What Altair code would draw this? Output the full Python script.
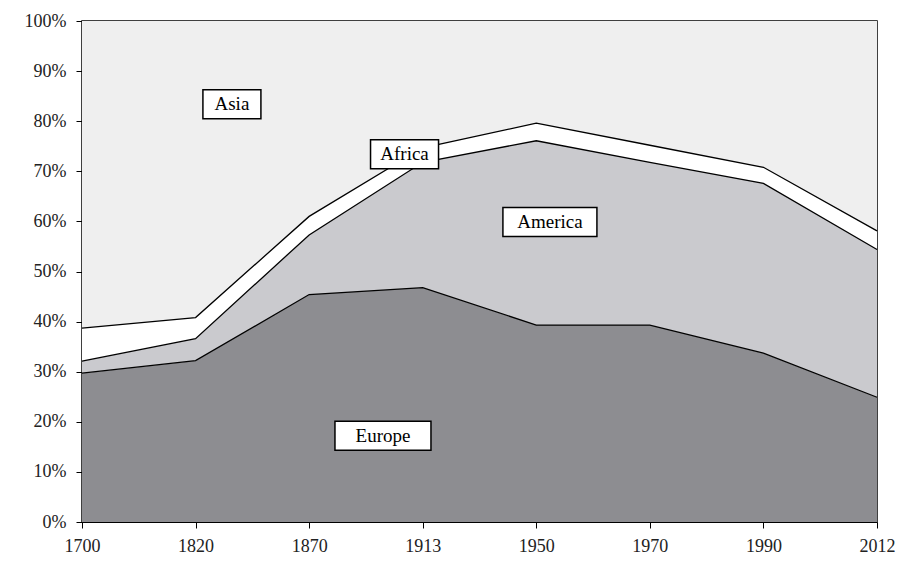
import altair as alt
import pandas as pd

years = ["1700", "1820", "1870", "1913", "1950", "1970", "1990", "2012"]
regions = ["Europe", "America", "Africa", "Asia"]
europe = [29.7, 32.2, 45.4, 46.8, 39.3, 39.3, 33.7, 24.9]
america = [2.4, 4.4, 11.9, 25.0, 36.8, 32.5, 33.9, 29.5]
africa = [6.6, 4.2, 3.7, 2.9, 3.5, 3.4, 3.2, 3.7]
asia = [61.3, 59.2, 39.0, 25.3, 20.4, 24.8, 29.2, 41.9]
colors = ["#8d8d91", "#cacace", "#ffffff", "#efefef"]

label_names = ["Asia", "Africa", "America", "Europe"]
label_x = [1.32, 2.84, 4.12, 2.65]
label_y = [83.4, 73.4, 59.9, 17.2]
label_wpx = [58, 68, 94, 96]

W, H = 795, 501
px_x = W / 7.0
px_y = H / 100.0
box_h = 29

series = {"Europe": europe, "America": america, "Africa": africa, "Asia": asia}
rows = []
for r_i, r in enumerate(regions):
    for i, v in enumerate(series[r]):
        rows.append({"idx": i, "region": r, "share": v, "ord": r_i})
df = pd.DataFrame(rows)

line_rows = []
for i in range(len(years)):
    cum = 0.0
    for r in regions[:-1]:
        cum += series[r][i]
        line_rows.append({"idx": i, "region": r, "cum": cum})
ldf = pd.DataFrame(line_rows)

lab = pd.DataFrame({"name": label_names, "x": label_x, "y": label_y, "w": label_wpx})
lab["x1"] = lab["x"] - lab["w"] / 2 / px_x
lab["x2"] = lab["x"] + lab["w"] / 2 / px_x
lab["y1"] = lab["y"] - box_h / 2 / px_y
lab["y2"] = lab["y"] + box_h / 2 / px_y

year_expr = "[" + ",".join("'%s'" % y for y in years) + "][datum.value]"

xscale = alt.Scale(domain=[0, 7], nice=False, zero=False)
yscale = alt.Scale(domain=[0, 100], nice=False)

xaxis = alt.Axis(values=list(range(8)), labelExpr=year_expr, title=None, grid=False,
                 domainColor="black", tickColor="black", tickSize=6, labelFontSize=18,
                 labelFont="Liberation Serif", labelColor="#222222", labelPadding=9,
                 labelFlush=False, labelBound=False, labelOverlap=False)
yaxis = alt.Axis(values=list(range(0, 101, 10)), labelExpr="datum.value + '%'", title=None,
                 grid=False, domainColor="black", tickColor="black", tickSize=6,
                 labelFontSize=18, labelFont="Liberation Serif", labelColor="#222222",
                 labelPadding=10, labelFlush=False, labelBound=False, labelOverlap=False)

area = alt.Chart(df).mark_area(opacity=1, interpolate="linear").encode(
    x=alt.X("idx:Q", scale=xscale, axis=xaxis),
    y=alt.Y("share:Q", stack="zero", scale=yscale, axis=yaxis),
    color=alt.Color("region:N", scale=alt.Scale(domain=regions, range=colors), legend=None),
    order=alt.Order("ord:Q", sort="ascending"),
)

lines = alt.Chart(ldf).mark_line(color="black", strokeWidth=1.3).encode(
    x=alt.X("idx:Q", scale=xscale),
    y=alt.Y("cum:Q", scale=yscale),
    detail="region:N",
)

boxes = alt.Chart(lab).mark_rect(fill="white", stroke="black", strokeWidth=1.5).encode(
    x=alt.X("x1:Q", scale=xscale), x2="x2:Q",
    y=alt.Y("y1:Q", scale=yscale), y2="y2:Q",
)

texts = alt.Chart(lab).mark_text(font="Liberation Serif", fontSize=19, color="black",
                                 baseline="middle", align="center").encode(
    x=alt.X("x:Q", scale=xscale),
    y=alt.Y("y:Q", scale=yscale),
    text="name:N",
)

chart = alt.layer(area, lines, boxes, texts).properties(
    width=W, height=H,
    autosize=alt.AutoSizeParams(type="none"),
    padding={"left": 74, "top": 13, "right": 22, "bottom": 40},
    background="white",
).configure_view(stroke="black", strokeWidth=1.5)

chart.save("out.html", embed_options={"renderer": "svg", "actions": False})
